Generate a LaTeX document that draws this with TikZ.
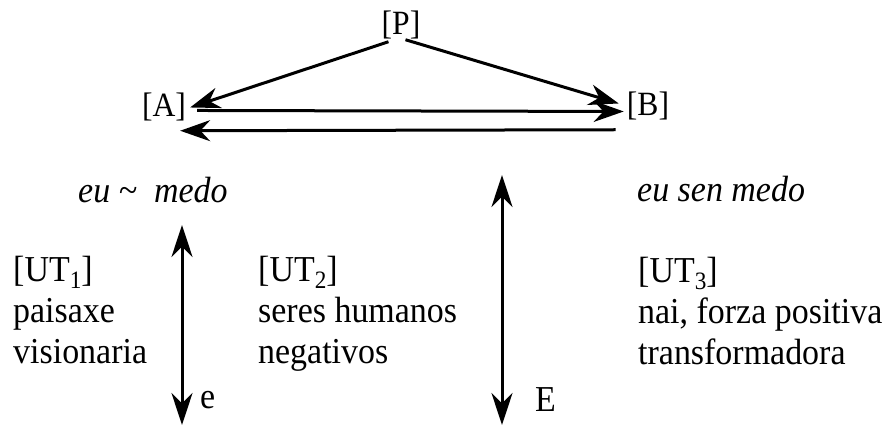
\documentclass[tikz,border=0pt]{standalone}
\usepackage{fontspec}
\setmainfont[FakeStretch=0.93]{Liberation Serif}
\usetikzlibrary{arrows.meta}
\newcommand\subn[1]{\raisebox{-7pt}{\fontsize{25}{25}\selectfont #1}}
\begin{document}
\begin{tikzpicture}[x=1pt,y=-1pt,
  lab/.style={inner sep=0pt, anchor=base, font=\fontsize{34}{38}\selectfont},
  txt/.style={inner sep=0pt, anchor=base west, font=\fontsize{36.5}{41}\selectfont},
  itxt/.style={txt, font=\fontsize{36.5}{41}\selectfont\itshape},
  arr/.style={line width=3pt, -{Stealth[length=30pt,width=21pt]}},
  darr/.style={line width=3pt, {Stealth[length=32pt,width=21pt]}-{Stealth[length=32pt,width=21pt]}}]
\useasboundingbox (0,0) rectangle (895,427);
\fill[white] (0,0) rectangle (895,427);
% top triangle
\node[lab] (P) at (401,35) {[P]};
\node[lab] (A) at (164,117) {[A]};
\node[lab] (B) at (648,116) {[B]};
\draw[arr] ([xshift=7pt,yshift=-2pt]P.south west) -- ([xshift=4pt]A.east);
\draw[arr] ([xshift=24pt]P.south west) -- ([xshift=-8pt,yshift=3pt]B.west);
\draw[arr] ([xshift=11pt,yshift=-3pt]A.east) -- ([xshift=-3pt,yshift=-5pt]B.west);
\draw[arr] ([xshift=-11pt,yshift=-9pt]B.south west) -- ([xshift=-6pt,yshift=-9pt]A.south east);
% labels
\node[itxt] (fear) at (78,203) {eu \textasciitilde\ \ medo};
\node[itxt] (nofear) at (637,202) {eu sen medo};
\node[txt] (ut1) at (13,282) {\begin{tabular}[t]{@{}l@{}}[UT\subn{1}]\\paisaxe\\visionaria\end{tabular}};
\node[txt] (ut2) at (258,282) {\begin{tabular}[t]{@{}l@{}}[UT\subn{2}]\\seres humanos\\negativos\end{tabular}};
\node[txt] (ut3) at (638,283) {\begin{tabular}[t]{@{}l@{}}[UT\subn{3}]\\nai, forza positiva\\transformadora\end{tabular}};
\node[txt] (e) at (200,409) {e};
\node[txt] (E) at (535,412) {E};
% vertical arrows
\coordinate (e1t) at (182,225);
\coordinate (e1b) at (182,425);
\coordinate (e2t) at (502,175);
\coordinate (e2b) at (502,425);
\draw[darr] (e1t) -- (e1b);
\draw[darr] (e2t) -- (e2b);
\end{tikzpicture}
\end{document}
